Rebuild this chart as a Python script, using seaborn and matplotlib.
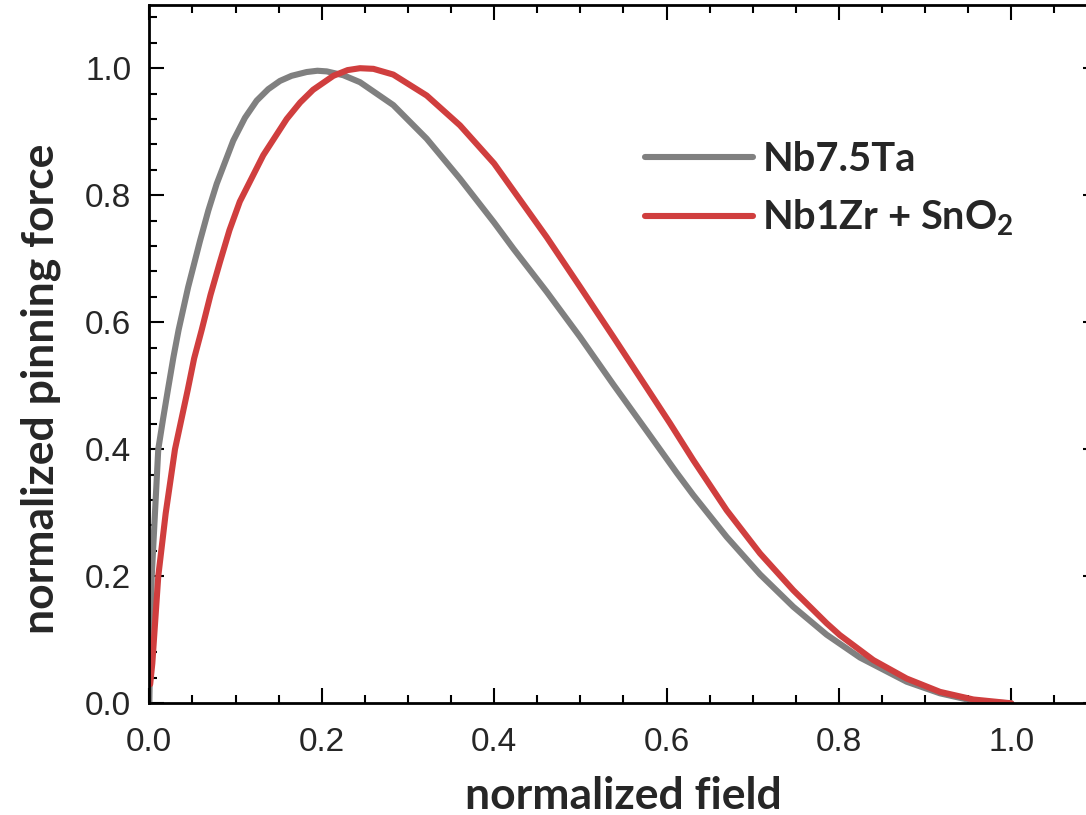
import numpy as np
import pandas as pd
import matplotlib
matplotlib.use("Agg")
import matplotlib.pyplot as plt
import seaborn as sns

# ---- data ----
series_names = ["Nb7.5Ta", "Nb1Zr + SnO$_\\mathbf{2}$"]

gray_x = [0.0, 0.0028, 0.0066, 0.0104, 0.016, 0.022, 0.028, 0.034, 0.045,
          0.0588, 0.0685, 0.0782, 0.0974, 0.111, 0.1246, 0.138, 0.1516, 0.165,
          0.1826, 0.195, 0.2058, 0.225, 0.2444, 0.283, 0.3218, 0.3604, 0.40,
          0.4223, 0.461, 0.4996, 0.5383, 0.577, 0.6118, 0.631, 0.6698, 0.7085,
          0.7471, 0.7858, 0.8245, 0.8786, 0.9173, 0.948, 0.975, 1.0]
gray_y = [0.0, 0.20, 0.30, 0.40, 0.448, 0.497, 0.545, 0.588, 0.655,
          0.728, 0.776, 0.818, 0.886, 0.922, 0.949, 0.967, 0.980, 0.988,
          0.994, 0.996, 0.995, 0.989, 0.978, 0.942, 0.889, 0.826, 0.757,
          0.716, 0.648, 0.577, 0.502, 0.429, 0.363, 0.328, 0.262, 0.203,
          0.152, 0.108, 0.072, 0.034, 0.0157, 0.0063, 0.0015, 0.0]

red_x = [0.001, 0.0035, 0.0104, 0.019, 0.0298, 0.0445, 0.052, 0.0608, 0.071,
         0.082, 0.093, 0.105, 0.1322, 0.1594, 0.175, 0.190, 0.2135, 0.23,
         0.2444, 0.26, 0.283, 0.3218, 0.3604, 0.40, 0.461, 0.4996, 0.5383,
         0.577, 0.604, 0.631, 0.6698, 0.7085, 0.7471, 0.7858, 0.801, 0.840,
         0.8786, 0.9173, 0.956, 1.0]
red_y = [0.03, 0.063, 0.20, 0.299, 0.40, 0.493, 0.543, 0.588, 0.643,
         0.695, 0.745, 0.79, 0.863, 0.920, 0.946, 0.966, 0.988, 0.997,
         1.0, 0.999, 0.990, 0.957, 0.910, 0.850, 0.734, 0.656, 0.577,
         0.497, 0.441, 0.383, 0.304, 0.236, 0.178, 0.126, 0.1075, 0.068,
         0.039, 0.018, 0.006, 0.0]

x_ticks = [0.0, 0.2, 0.4, 0.6, 0.8, 1.0]
y_ticks = [0.0, 0.2, 0.4, 0.6, 0.8, 1.0]
tick_labels_x = ["0.0", "0.2", "0.4", "0.6", "0.8", "1.0"]
tick_labels_y = ["0.0", "0.2", "0.4", "0.6", "0.8", "1.0"]

colors = {series_names[0]: "#808080", series_names[1]: "#D03E3E"}

df = pd.concat([
    pd.DataFrame({"field": gray_x, "force": gray_y, "sample": series_names[0]}),
    pd.DataFrame({"field": red_x, "force": red_y, "sample": series_names[1]}),
], ignore_index=True)

sns.set_theme(style="white")
plt.rcParams["font.family"] = ["Liberation Sans", "DejaVu Sans"]
plt.rcParams["mathtext.fontset"] = "custom"
plt.rcParams["mathtext.rm"] = "Lato"
plt.rcParams["mathtext.bf"] = "Lato:bold"

W, H = 1086, 815
fig = plt.figure(figsize=(W / 100, H / 100), dpi=100)
# axes frame extends slightly beyond the right image edge (as in reference)
left_px, right_px, top_px, bot_px = 149.3, 1097.5, 4.7, 703.3
ax = fig.add_axes([left_px / W, 1 - bot_px / H, (right_px - left_px) / W, (bot_px - top_px) / H])

sns.lineplot(data=df, x="field", y="force", hue="sample", palette=colors,
             estimator=None, sort=False, linewidth=4.4, ax=ax)
for ln in ax.get_lines():
    ln.set_solid_joinstyle("round")

ax.set_xlim(0, 1.1)
ax.set_ylim(0, 1.1)
ax.set_xticks(x_ticks)
ax.set_xticklabels(tick_labels_x)
ax.set_yticks(y_ticks)
ax.set_yticklabels(tick_labels_y)
ax.set_xticks(np.arange(0, 1.1001, 0.05), minor=True)
ax.set_yticks(np.arange(0, 1.1001, 0.04), minor=True)

for s in ax.spines.values():
    s.set_visible(True)
    s.set_color("black")
    s.set_linewidth(2.0)

ax.tick_params(which="both", direction="in", top=True, right=True, bottom=True, left=True,
               color="black", width=1.5)
ax.tick_params(which="major", length=10.5, labelsize=24)
ax.tick_params(axis="x", which="major", pad=17)
ax.tick_params(axis="y", which="major", pad=13)
ax.tick_params(which="minor", length=5.5)
ax.grid(False)

label_font = dict(family=["Lato", "DejaVu Sans"], weight="bold", size=32)
ax.set_xlabel("normalized field", **label_font)
ax.set_ylabel("normalized pinning force", **label_font)
ax.xaxis.set_label_coords(0.5, -0.132)
ax.yaxis.set_label_coords(-0.115, 0.45)
ax.xaxis.label.set_va("center")
ax.yaxis.label.set_va("center")

leg = ax.legend(loc="upper left",
                bbox_to_anchor=((609 - left_px) / (right_px - left_px),
                                (bot_px - 105) / (bot_px - top_px)),
                frameon=False, handlelength=2.7, handletextpad=0.25, labelspacing=0.5,
                prop=dict(family=["Lato", "DejaVu Sans"], weight="bold", size=28.7))
for line in leg.get_lines():
    line.set_linewidth(4.4)

fig.savefig("out.png", dpi=100)
